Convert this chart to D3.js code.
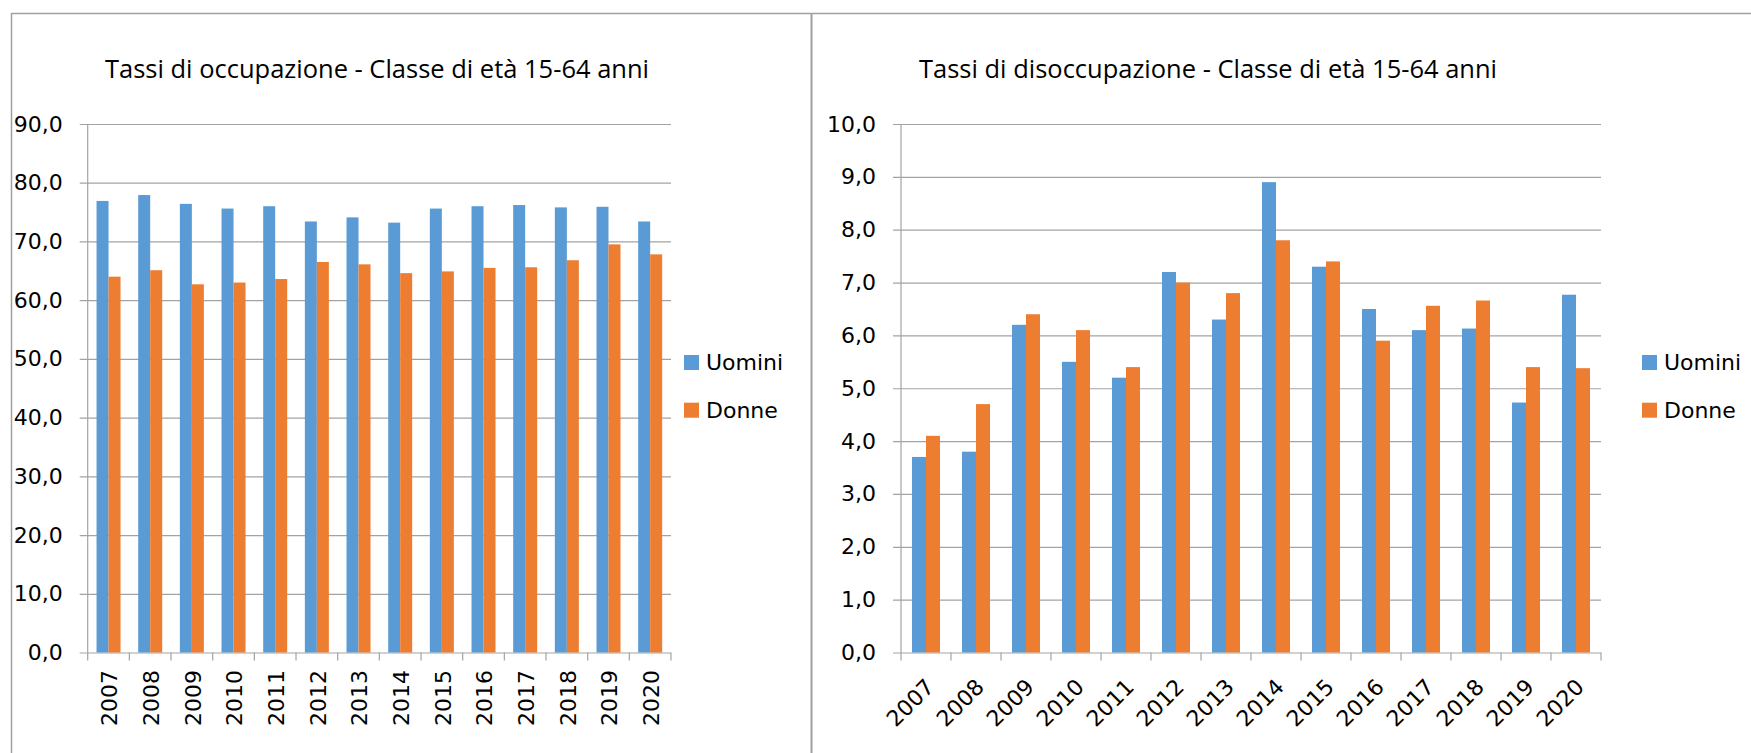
<!DOCTYPE html>
<html>
<head>
<meta charset="utf-8">
<script src="https://cdn.jsdelivr.net/npm/d3@7"></script>
<style>
  body { margin: 0; background: #fff; }
  svg { display: block; }
</style>
</head>
<body>
<svg id="chart" width="1751" height="753"></svg>
<script>
// dati
const anni = ["2007", "2008", "2009", "2010", "2011", "2012", "2013", "2014", "2015", "2016", "2017", "2018", "2019", "2020"];
const serie = ["Uomini", "Donne"];
const colori = ["#5B9BD5", "#ED7D31"];

const occupazioneUomini = [76.9, 77.9, 76.4, 75.6, 76.0, 73.4, 74.1, 73.2, 75.6, 76.0, 76.2, 75.8, 75.9, 73.4];
const occupazioneDonne  = [64.0, 65.1, 62.7, 63.0, 63.6, 66.5, 66.1, 64.6, 64.9, 65.5, 65.6, 66.8, 69.5, 67.8];

const disoccupazioneUomini = [3.70, 3.80, 6.20, 5.50, 5.20, 7.20, 6.30, 8.90, 7.30, 6.50, 6.10, 6.13, 4.73, 6.77];
const disoccupazioneDonne  = [4.10, 4.70, 6.40, 6.10, 5.40, 7.00, 6.80, 7.80, 7.40, 5.90, 6.56, 6.66, 5.40, 5.38];

const tickOccupazione = [0, 10, 20, 30, 40, 50, 60, 70, 80, 90];
const tickDisoccupazione = [0, 1, 2, 3, 4, 5, 6, 7, 8, 9, 10];

const it = d3.formatLocale({ decimal: ",", thousands: ".", grouping: [3], currency: ["€", ""] });
const fmt = it.format(".1f");

const svg = d3.select("#chart");
const GRID = "#a3a3a3";
const TICK_FONT = "'DejaVu Sans', Verdana, sans-serif";
const TOP = 124, BASE = 652.5;

// cornici dei due pannelli
svg.append("line").attr("x1", 11.5).attr("x2", 1751).attr("y1", 13.5).attr("y2", 13.5)
    .attr("stroke", "#a0a0a0").attr("stroke-width", 1.5);
svg.append("line").attr("x1", 11.5).attr("x2", 11.5).attr("y1", 13).attr("y2", 753)
    .attr("stroke", "#a0a0a0").attr("stroke-width", 1.5);
svg.append("line").attr("x1", 811.5).attr("x2", 811.5).attr("y1", 13).attr("y2", 753)
    .attr("stroke", "#a0a0a0").attr("stroke-width", 2);

function drawPanel(opt) {
    const g = svg.append("g");
    const values = [opt.uomini, opt.donne];

    const x = d3.scaleBand()
        .domain(anni)
        .range([opt.x0, opt.x1])
        .paddingInner(opt.gap)
        .paddingOuter(opt.gap / 2);
    const xs = d3.scaleBand().domain(serie).range([0, x.bandwidth()]);
    const y = d3.scaleLinear().domain([0, d3.max(opt.ticks)]).range([BASE, TOP]);

    // titolo
    g.append("text")
        .attr("x", opt.titleX).attr("y", 78)
        .attr("textLength", opt.titleW).attr("lengthAdjust", "spacingAndGlyphs")
        .style("font-family", "'Open Sans', 'Noto Sans', sans-serif")
        .style("font-size", "25px")
        .attr("fill", "#000")
        .text(opt.title);

    // asse y con griglia
    const yAxis = g.append("g")
        .attr("transform", `translate(${opt.x0 - 8},0)`)
        .call(d3.axisLeft(y).tickValues(opt.ticks).tickFormat(fmt)
            .tickSize(-(opt.x1 - opt.x0 + 8)).tickPadding(17));
    yAxis.select(".domain").remove();
    yAxis.selectAll("line").attr("stroke", GRID).attr("stroke-width", 1.2);
    yAxis.selectAll("text")
        .style("font-family", TICK_FONT).style("font-size", "22px").attr("fill", "#000");

    g.append("line")
        .attr("x1", opt.x0).attr("x2", opt.x0).attr("y1", TOP).attr("y2", BASE)
        .attr("stroke", GRID).attr("stroke-width", 1.2);

    // barre
    serie.forEach((s, si) => {
        g.append("g").selectAll("rect")
            .data(anni.map((a, i) => ({ anno: a, v: values[si][i] })))
            .join("rect")
            .attr("x", d => x(d.anno) + xs(s))
            .attr("y", d => y(d.v))
            .attr("width", xs.bandwidth())
            .attr("height", d => y(0) - y(d.v))
            .attr("fill", colori[si]);
    });

    // tacche dell'asse x ai confini delle categorie
    g.append("g").selectAll("line")
        .data(d3.range(anni.length + 1))
        .join("line")
        .attr("x1", i => opt.x0 + i * x.step())
        .attr("x2", i => opt.x0 + i * x.step())
        .attr("y1", BASE).attr("y2", BASE + 8)
        .attr("stroke", GRID).attr("stroke-width", 1.2);

    const xAxis = g.append("g")
        .attr("transform", `translate(0,${BASE})`)
        .call(d3.axisBottom(x).tickSize(0));
    xAxis.select(".domain").remove();
    xAxis.selectAll("text")
        .attr("x", 0).attr("y", 0).attr("dy", "0.35em")
        .attr("text-anchor", "end")
        .attr("transform", opt.labelTransform)
        .style("font-family", TICK_FONT).style("font-size", "22px").attr("fill", "#000");

    // legenda
    const leg = g.append("g").selectAll("g")
        .data(serie)
        .join("g")
        .attr("transform", (d, i) => `translate(${opt.legendX},${355 + i * 47.7})`);
    leg.append("rect").attr("width", 15).attr("height", 15).attr("fill", (d, i) => colori[i]);
    leg.append("text")
        .attr("x", 22).attr("y", 7.5).attr("dy", "0.35em")
        .style("font-family", TICK_FONT).style("font-size", "22px").attr("fill", "#000")
        .text(d => d);
}

drawPanel({
    title: "Tassi di occupazione - Classe di età 15-64 anni",
    titleX: 105, titleW: 544,
    uomini: occupazioneUomini, donne: occupazioneDonne,
    ticks: tickOccupazione,
    x0: 87.7, x1: 671, gap: 0.424,
    labelTransform: "translate(1,17.5) rotate(-90)",
    legendX: 684
});

drawPanel({
    title: "Tassi di disoccupazione - Classe di età 15-64 anni",
    titleX: 919, titleW: 578,
    uomini: disoccupazioneUomini, donne: disoccupazioneDonne,
    ticks: tickDisoccupazione,
    x0: 901, x1: 1601, gap: 0.44,
    labelTransform: "translate(4,30.5) rotate(-45)",
    legendX: 1642
});
</script>
</body>
</html>
